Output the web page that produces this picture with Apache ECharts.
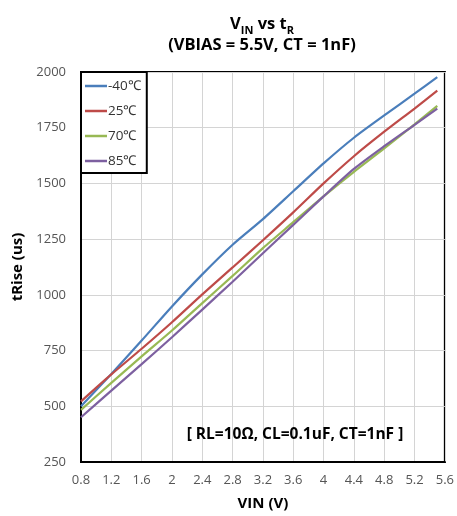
<!DOCTYPE html>
<html>
<head>
<meta charset="utf-8">
<script src="https://cdn.jsdelivr.net/npm/echarts@6/dist/echarts.min.js"></script>
<style>html,body{margin:0;padding:0;background:#fff;}#c{width:457px;height:516px;}</style>
</head>
<body>
<div id="c"></div>
<script>
const vin = [0.8, 1.2, 1.6, 2.0, 2.4, 2.8, 3.2, 3.6, 4.0, 4.4, 4.8, 5.2, 5.5];
const seriesNames = ['-40℃', '25℃', '70℃', '85℃'];
const tM40 = [500, 645, 795, 948, 1092, 1225, 1340, 1465, 1590, 1705, 1805, 1903, 1977];
const t25  = [522, 643, 758, 877, 1002, 1123, 1245, 1370, 1500, 1622, 1732, 1836, 1916];
const t70  = [484, 605, 724, 840, 963, 1085, 1210, 1326, 1442, 1552, 1657, 1765, 1848];
const t85  = [451, 570, 689, 810, 934, 1059, 1187, 1314, 1442, 1565, 1667, 1763, 1836];
const colors = ['#4a7ebb', '#be4b48', '#98b954', '#7d60a0'];
const annotation = '[ RL=10Ω, CL=0.1uF, CT=1nF ]';

const font = '"Open Sans", "Liberation Sans", sans-serif';
const allData = [tM40, t25, t70, t85];
const chart = echarts.init(document.getElementById('c'), null, {renderer: 'canvas'});
chart.setOption({
  animation: false,
  backgroundColor: '#fff',
  title: {
    left: 257, top: 4, textAlign: 'center',
    text: '{a|V}{s|IN}{a| vs t}{s|R}\n{b|(VBIAS = 5.5V, CT = 1nF)}',
    textStyle: {
      rich: {
        a: {fontFamily: font, fontSize: 16.5, fontWeight: 'bold', color: '#000', lineHeight: 24, verticalAlign: 'bottom'},
        s: {fontFamily: font, fontSize: 11, fontWeight: 'bold', color: '#000', lineHeight: 18, verticalAlign: 'bottom', padding: [0,0,-3,0]},
        b: {fontFamily: font, fontSize: 16.5, fontWeight: 'bold', color: '#000', lineHeight: 24}
      }
    }
  },
  grid: {left: 81, right: 9, top: 72, bottom: 53, show: true, borderColor: '#000', borderWidth: 2, backgroundColor: 'transparent'},
  legend: {
    orient: 'vertical', left: 81, top: 72,
    data: seriesNames,
    icon: 'rect', itemWidth: 22, itemHeight: 2.5, itemGap: 11,
    padding: [7, 6, 5, 4],
    borderColor: '#000', borderWidth: 2, backgroundColor: '#fff',
    textStyle: {fontFamily: font, fontSize: 13.5, color: '#333', padding: [0,0,0,-4]}
  },
  xAxis: {
    type: 'value', min: 0.8, max: 5.6, interval: 0.4,
    name: 'VIN (V)', nameLocation: 'middle', nameGap: 34,
    nameTextStyle: {fontFamily: font, fontSize: 15, fontWeight: 'bold', color: '#000'},
    axisLine: {lineStyle: {color: '#000', width: 2}},
    axisTick: {show: false},
    axisLabel: {fontFamily: font, fontSize: 13, color: '#555', margin: 12,
      formatter: v => String(Math.round(v * 10) / 10)},
    splitLine: {show: true, lineStyle: {color: '#d4d4d4', width: 1}}
  },
  yAxis: {
    type: 'value', min: 250, max: 2000, interval: 250,
    name: 'tRise (us)', nameLocation: 'middle', nameGap: 55, nameRotate: 90,
    nameTextStyle: {fontFamily: font, fontSize: 15, fontWeight: 'bold', color: '#000'},
    axisLine: {show: true, lineStyle: {color: '#000', width: 2}},
    axisTick: {show: false},
    axisLabel: {fontFamily: font, fontSize: 13, color: '#555', margin: 15,
      formatter: v => String(v)},
    splitLine: {show: true, lineStyle: {color: '#d4d4d4', width: 1}}
  },
  series: seriesNames.map((n, i) => ({
    name: n, type: 'line', smooth: 0.25, showSymbol: false, z: 3,
    color: colors[i],
    lineStyle: {width: 2.2, color: colors[i]},
    data: vin.map((x, k) => [x, allData[i][k]])
  })),
  graphic: [{
    type: 'text', x: 295, y: 435, z: 10,
    style: {text: annotation, font: 'bold 15.5px ' + font, fill: '#000', align: 'center', verticalAlign: 'middle'}
  }]
});
</script>
</body>
</html>
